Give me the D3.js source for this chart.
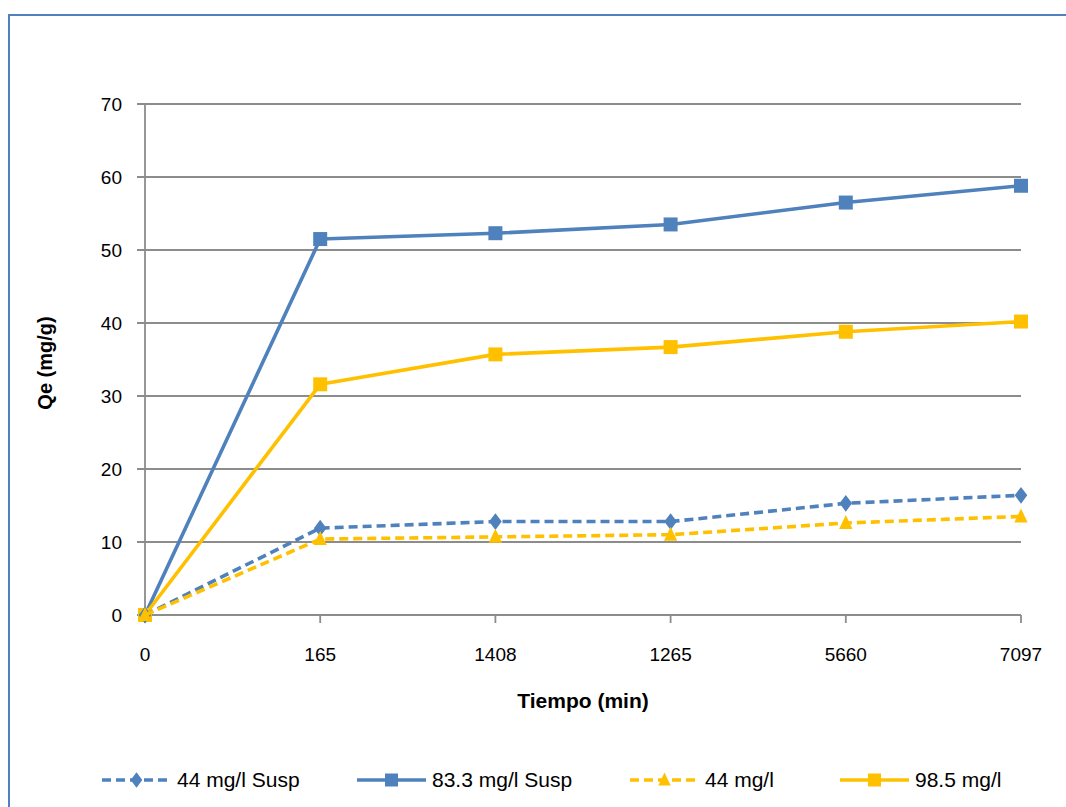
<!DOCTYPE html>
<html><head><meta charset="utf-8">
<script src="https://cdn.jsdelivr.net/npm/d3@7"></script>
<style>
html,body{margin:0;padding:0;background:#fff;}
svg{display:block;}
text{font-family:"Liberation Sans",Arial,sans-serif;fill:#000;}
</style></head>
<body>
<svg id="c" width="1066" height="807"></svg>
<script>
const categories = ["0","165","1408","1265","5660","7097"];
const yTicks = [0,10,20,30,40,50,60,70];
const seriesNames = ["44 mg/l Susp","83.3 mg/l Susp","44 mg/l","98.5 mg/l"];
const susp44 = [0, 11.9, 12.8, 12.8, 15.3, 16.4];
const susp833 = [0, 51.5, 52.3, 53.5, 56.5, 58.8];
const conc44 = [0, 10.4, 10.7, 11.0, 12.6, 13.5];
const conc985 = [0, 31.6, 35.7, 36.7, 38.8, 40.2];

const blue = "#4F81BD", gold = "#FFC000";
const series = [
  {name: seriesNames[0], values: susp44, color: blue, dash: "9,5", marker: "diamond"},
  {name: seriesNames[1], values: susp833, color: blue, dash: null, marker: "square"},
  {name: seriesNames[2], values: conc44, color: gold, dash: "9,5", marker: "triangle"},
  {name: seriesNames[3], values: conc985, color: gold, dash: null, marker: "square"}
];

const svg = d3.select("#c");
svg.append("rect").attr("x",9).attr("y",15).attr("width",1100).attr("height",900)
  .attr("fill","none").attr("stroke",blue).attr("stroke-width",2);

const x = d3.scalePoint().domain(categories).range([145,1021]);
const y = d3.scaleLinear().domain([0,70]).range([615,104]);

svg.append("g").selectAll("line").data(yTicks).join("line")
  .attr("x1",137).attr("x2",1021).attr("y1",d=>y(d)).attr("y2",d=>y(d))
  .attr("stroke","#8c8c8c").attr("stroke-width",1.8);
svg.append("line").attr("x1",145).attr("x2",145).attr("y1",y(70)).attr("y2",y(0))
  .attr("stroke","#8c8c8c").attr("stroke-width",1.8);
svg.append("g").selectAll("line").data(categories).join("line")
  .attr("x1",d=>x(d)).attr("x2",d=>x(d)).attr("y1",615).attr("y2",623)
  .attr("stroke","#8c8c8c").attr("stroke-width",1.8);

svg.append("g").selectAll("text").data(yTicks).join("text")
  .attr("x",122).attr("y",d=>y(d)+7).attr("text-anchor","end")
  .attr("font-size",19).text(d=>d);
svg.append("g").selectAll("text").data(categories).join("text")
  .attr("x",d=>x(d)).attr("y",661).attr("text-anchor","middle")
  .attr("font-size",19).text(d=>d);

svg.append("text").attr("x",583).attr("y",708).attr("text-anchor","middle")
  .attr("font-size",21).attr("font-weight","bold").text("Tiempo (min)");
svg.append("text").attr("transform","translate(52,363) rotate(-90)").attr("text-anchor","middle")
  .attr("font-size",20).attr("font-weight","bold").text("Qe (mg/g)");

function markerPath(type, size){
  const s = size/2;
  if(type==="square") return `M${-s},${-s}H${s}V${s}H${-s}Z`;
  if(type==="diamond") return `M0,${-s*1.2}L${s*0.9},0L0,${s*1.2}L${-s*0.9},0Z`;
  if(type==="triangle") return `M0,${-s*1.15}L${s*0.95},${s*0.85}L${-s*0.95},${s*0.85}Z`;
}

const line = d3.line().x((d,i)=>x(categories[i])).y(d=>y(d));
const order = [1,3,0,2];
order.forEach(k=>{
  const s = series[k];
  const g = svg.append("g");
  g.append("path").attr("d",line(s.values)).attr("fill","none")
    .attr("stroke",s.color).attr("stroke-width",3.6)
    .attr("stroke-dasharray",s.dash).attr("stroke-linejoin","round");
  g.selectAll("path.m").data(s.values).join("path").attr("class","m")
    .attr("transform",(d,i)=>`translate(${x(categories[i])},${y(d)})`)
    .attr("d",markerPath(s.marker,14)).attr("fill",s.color);
});

const legendX = [102,357,630,840];
const leg = svg.append("g");
series.forEach((s,i)=>{
  const x0 = legendX[i], x1 = x0+69, ly = 780;
  leg.append("line").attr("x1",x0).attr("x2",x1).attr("y1",ly).attr("y2",ly)
    .attr("stroke",s.color).attr("stroke-width",3.4).attr("stroke-dasharray",s.dash);
  leg.append("path").attr("transform",`translate(${(x0+x1)/2},${ly})`)
    .attr("d",markerPath(s.marker,13)).attr("fill",s.color);
  leg.append("text").attr("x",x1+6).attr("y",ly+7).attr("font-size",21).text(s.name);
});
</script>
</body></html>
